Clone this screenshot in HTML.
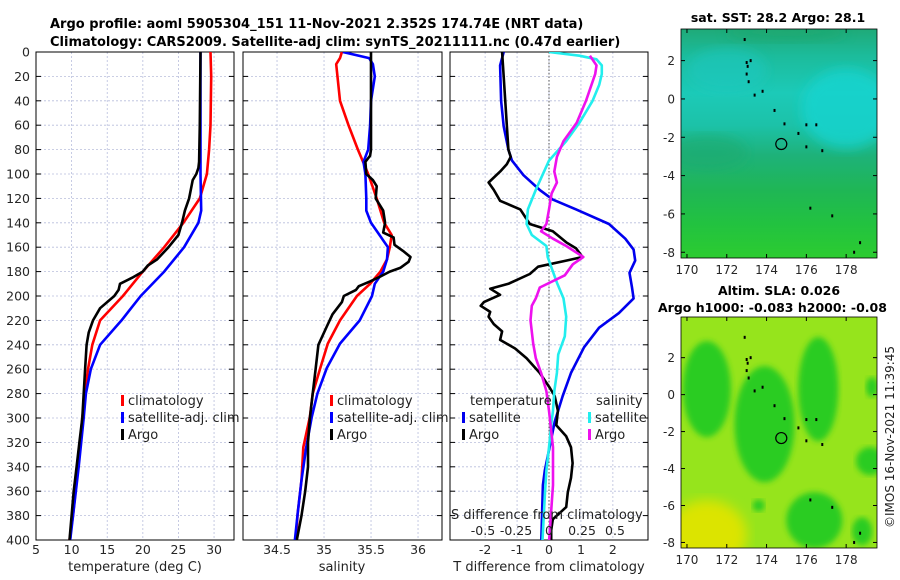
<!DOCTYPE html>
<html><head><meta charset="utf-8"><style>
html,body{margin:0;padding:0;background:#fff;}
svg{display:block;font-family:"DejaVu Sans","Liberation Sans",sans-serif;}
</style></head><body>
<svg id="fig" width="900" height="580" viewBox="0 0 900 580">
<defs>
<linearGradient id="sstGrad" x1="0" y1="0" x2="0" y2="1">
<stop offset="0" stop-color="#1faa78"/><stop offset="0.12" stop-color="#1cbc9c"/>
<stop offset="0.28" stop-color="#1ccab8"/><stop offset="0.42" stop-color="#1cc2a8"/>
<stop offset="0.55" stop-color="#1eb27a"/><stop offset="0.7" stop-color="#1fb656"/>
<stop offset="0.85" stop-color="#22c240"/><stop offset="1" stop-color="#2ccc30"/>
</linearGradient>
<filter id="blur6"><feGaussianBlur stdDeviation="6"/></filter>
<filter id="blur3"><feGaussianBlur stdDeviation="3"/></filter>
<clipPath id="clipM1"><rect x="681" y="29" width="196" height="229"/></clipPath>
<clipPath id="clipM2"><rect x="681" y="317" width="196" height="231"/></clipPath>
<clipPath id="clipP1"><rect x="36" y="52" width="198" height="488"/></clipPath>
<clipPath id="clipP2"><rect x="243" y="52" width="199" height="488"/></clipPath>
<clipPath id="clipP3"><rect x="450" y="52" width="198" height="488"/></clipPath>
</defs>
<text x="50" y="28" font-size="13" font-weight="bold">Argo profile: aoml 5905304_151 11-Nov-2021 2.352S 174.74E (NRT data)</text>
<text x="50" y="46" font-size="13" font-weight="bold">Climatology: CARS2009. Satellite-adj clim: synTS_20211111.nc (0.47d earlier)</text>
<g id="panels"></g>
<g id="maps"></g>
<text transform="translate(894,437) rotate(-90)" text-anchor="middle" font-size="12" fill="#222">©IMOS 16-Nov-2021 11:39:45</text>
</svg>
<script>
// ---- Panel 1: temperature ----
const tClimDepth = [0,20,60,80,100,120,140,160,180,200,220,240,260,280,300,340,380,400];
const tClimVal   = [29.5,29.6,29.5,29.3,29.0,28.0,25.7,23.0,20.0,17.2,14.0,12.9,12.3,11.9,11.5,10.9,10.2,9.7];
const tSatDepth  = [0,60,100,130,140,160,180,200,220,240,260,280,300,340,400];
const tSatVal    = [28.1,28.1,28.1,28.2,27.8,25.8,23.0,19.7,17.0,14.0,12.7,12.0,11.7,11.0,9.8];
const tArgoDepth = [0,60,90,95,100,105,120,130,140,150,160,170,175,180,185,190,195,200,210,220,230,240,260,280,300,320,340,360,380,400];
const tArgoVal   = [28.1,28.0,27.9,27.8,27.5,27.0,26.5,25.9,25.5,25.0,23.6,22.0,20.7,20.0,18.5,16.8,16.6,16.0,14.0,13.0,12.4,12.1,11.9,11.7,11.5,11.1,10.7,10.3,10.0,9.7];
const tTicks = [5,10,15,20,25,30];
// ---- Panel 2: salinity ----
const sClimDepth = [0,5,10,40,60,80,100,120,140,150,160,170,180,190,200,220,239,259,280,299,324,351,378,400];
const sClimVal   = [35.19,35.17,35.13,35.17,35.26,35.36,35.47,35.56,35.64,35.72,35.70,35.67,35.60,35.49,35.35,35.17,35.04,34.96,34.88,34.85,34.78,34.76,34.72,34.70];
const sSatDepth  = [0,5,10,20,40,60,80,90,100,120,130,140,150,160,170,180,190,200,220,239,259,280,299,324,351,378,400];
const sSatVal    = [35.20,35.48,35.52,35.54,35.50,35.49,35.47,35.42,35.44,35.45,35.45,35.50,35.59,35.68,35.67,35.63,35.54,35.51,35.38,35.17,35.03,34.93,34.87,34.81,34.76,34.72,34.69];
const sArgoDepth = [0,80,85,90,100,105,110,120,130,140,148,152,158,163,168,172,177,180,184,188,192,195,200,205,215,225,240,260,280,300,320,340,360,380,400];
const sArgoVal   = [35.50,35.50,35.49,35.44,35.45,35.52,35.56,35.55,35.63,35.65,35.63,35.74,35.75,35.84,35.92,35.90,35.81,35.70,35.60,35.49,35.37,35.34,35.21,35.19,35.09,35.03,34.94,34.91,34.88,34.85,34.83,34.83,34.80,34.76,34.71];
const sTicks = [34.5,35,35.5,36];
// ---- Panel 3: differences ----
const dTSatDepth = [0,11,40,61,80,89,101,113,121,129,141,153,162,171,181,193,202,214,226,242,263,282,303,324,343,355,400];
const dTSatVal   = [-1.42,-1.53,-1.5,-1.42,-1.27,-1.16,-0.8,-0.29,0.12,0.85,1.88,2.39,2.65,2.7,2.52,2.6,2.65,2.19,1.57,1.1,0.69,0.43,0.18,0.02,-0.13,-0.19,-0.24];
const dTArgoDepth= [0,80,86,92,98,107,113,122,129,141,147,156,161,168,171,176,182,190,194,199,205,208,213,217,223,229,236,243,251,263,275,282,294,306,315,324,337,349,361,373,383,392,402];
const dTArgoVal  = [-1.47,-1.27,-1.2,-1.32,-1.53,-1.89,-1.73,-1.53,-0.9,-0.6,0.12,0.54,0.85,1.05,0.54,-0.34,-0.6,-1.27,-1.84,-1.53,-2.04,-2.14,-1.84,-1.89,-1.73,-1.47,-1.53,-1.06,-0.7,-0.29,0.02,0.18,0.28,0.23,0.54,0.69,0.74,0.69,0.59,0.54,0.12,0.07,0.07];
const dSSatDepth = [0,3,6,11,18,27,40,58,73,89,101,113,129,141,150,159,168,177,189,202,217,233,248,263,278,294,303,324,343,361,402];
const dSSatVal   = [0,0.23,0.36,0.40,0.40,0.38,0.33,0.23,0.13,0,-0.05,-0.10,-0.16,-0.17,-0.13,-0.02,-0.01,0.02,0.06,0.11,0.13,0.12,0.07,0.06,0.04,0.03,0.02,0.0,-0.02,-0.03,-0.05];
const dSArgoDepth= [3,11,18,40,58,73,86,98,107,116,129,141,147,153,159,168,174,183,193,202,208,220,239,251,263,278,294,324,355,402];
const dSArgoVal  = [0.31,0.36,0.35,0.28,0.21,0.11,0.06,0.04,0.06,0.02,0.0,-0.02,-0.06,0.03,0.13,0.26,0.18,0.12,-0.07,-0.10,-0.13,-0.14,-0.12,-0.10,-0.06,-0.02,0.0,0.03,0.03,0.0];
const dTTicks = [-2,-1,0,1,2];
const dSTicks = [-0.5,-0.25,0,0.25,0.5];
const dSTickLabels = ["-0.5","-0.25","0","0.25","0.5"];
const depthTicks = [0,20,40,60,80,100,120,140,160,180,200,220,240,260,280,300,320,340,360,380,400];
// ---- Maps ----
const mapLatTicks = [2,0,-2,-4,-6,-8];
const mapLonTicks = [170,172,174,176,178];
const islandLon = [172.9,173.05,173.0,173.1,173.8,173.4,174.4,174.9,175.6,176.0,176.5,176.0,176.8,176.2,177.3,178.7,178.4,173.2,173.0];
const islandLat = [3.1,1.7,1.3,0.9,0.4,0.2,-0.6,-1.3,-1.8,-1.35,-1.35,-2.5,-2.7,-5.7,-6.1,-7.5,-8.0,2.0,1.9];
const argoLon = 174.74, argoLat = -2.352;

const NS = "http://www.w3.org/2000/svg";
const panels = document.getElementById('panels');
function el(tag, attrs, parent){const e=document.createElementNS(NS,tag);for(const k in attrs)e.setAttribute(k,attrs[k]);(parent||panels).appendChild(e);return e;}
const Y0=52, Y1=540;
const sy = d => Y0 + (d/400)*(Y1-Y0);
function linX(x0,x1,v0,v1){return v=>x0+(v-v0)/(v1-v0)*(x1-x0);}

function frame(x0,x1,sx,ticks,labels,showY,name){
  const g=el('g',{});
  
  
  depthTicks.forEach(d=>{
    if(d>0&&d<400){const l=el('line',{x1:x0,x2:x1,y1:sy(d),y2:sy(d),stroke:'#b8bedc','stroke-width':0.8,'stroke-dasharray':'2,2'},g);
      }
    el('line',{x1:x0,x2:x0+5,y1:sy(d),y2:sy(d),stroke:'#000'},g);
    el('line',{x1:x1-5,x2:x1,y1:sy(d),y2:sy(d),stroke:'#000'},g);
    if(showY){const t=el('text',{x:30,y:sy(d)+4.5,'text-anchor':'end','font-size':12.5,fill:'#262626'},g);t.textContent=d;
      }
  });
  ticks.forEach((v,i)=>{
    const x=sx(v);
    const l=el('line',{x1:x,x2:x,y1:Y0,y2:Y1,stroke:'#b8bedc','stroke-width':0.8,'stroke-dasharray':'2,2'},g);
    
    const t=el('text',{x:x,y:554,'text-anchor':'middle','font-size':12.5,fill:'#262626'},g);t.textContent=labels[i];
    
  });
  const r=el('rect',{x:x0,y:Y0,width:x1-x0,height:Y1-Y0,fill:'none',stroke:'#000','stroke-width':1},g);
  
  return g;
}
function series(depths,vals,sx,color,clip,name){
  const pts=depths.map((d,i)=>sx(vals[i]).toFixed(1)+','+sy(d).toFixed(1)).join(' ');
  const p=el('polyline',{points:pts,fill:'none',stroke:color,'stroke-width':2.6,'stroke-linejoin':'round','clip-path':'url(#'+clip+')'});
  
  
}
function txt(x,y,s,size,name,anchor,color){const t=el('text',{x:x,y:y,'font-size':size,fill:color||'#222','text-anchor':anchor||'start'});t.textContent=s;
  
  return t;}
function legend(x,y,color,label,name){
  const g=el('g',{});
  
  
  el('rect',{x:x,y:y-10,width:3,height:11,fill:color},g);
  const t=el('text',{x:x+7,y:y,'font-size':13,fill:'#222'},g);t.textContent=label;
}

// Panel 1
const sx1=linX(36,234,5,32.8);
frame(36,234,sx1,tTicks,tTicks.map(String),true,'temperature-panel');
series(tClimDepth,tClimVal,sx1,'#ff0000','clipP1','temp-climatology-line');
series(tSatDepth,tSatVal,sx1,'#0000ff','clipP1','temp-satellite-line');
series(tArgoDepth,tArgoVal,sx1,'#000000','clipP1','temp-argo-line');
legend(121,405,'#ff0000','climatology','legend-climatology-1');
legend(121,422,'#0000ff','satellite-adj. clim','legend-satellite-1');
legend(121,439,'#000000','Argo','legend-argo-1');
txt(135,571,'temperature (deg C)',13,'temperature-axis-title','middle');

// Panel 2
const sx2=linX(243,442,34.138,36.255);
frame(243,442,sx2,sTicks,sTicks.map(String),false,'salinity-panel');
series(sClimDepth,sClimVal,sx2,'#ff0000','clipP2','sal-climatology-line');
series(sSatDepth,sSatVal,sx2,'#0000ff','clipP2','sal-satellite-line');
series(sArgoDepth,sArgoVal,sx2,'#000000','clipP2','sal-argo-line');
legend(330,405,'#ff0000','climatology','legend-climatology-2');
legend(330,422,'#0000ff','satellite-adj. clim','legend-satellite-2');
legend(330,439,'#000000','Argo','legend-argo-2');
txt(342,571,'salinity',13,'salinity-axis-title','middle');

// Panel 3
const sx3=linX(450,648,-3.1,3.1);
const sx3s=v=>549+v*132;
frame(450,648,sx3,dTTicks,dTTicks.map(String),false,'difference-panel');
el('line',{x1:549,x2:549,y1:Y0,y2:Y1,stroke:'#555','stroke-width':1,'stroke-dasharray':'1.5,2'});
series(dTSatDepth,dTSatVal,sx3,'#0000ee','clipP3','dT-satellite-line');
series(dTArgoDepth,dTArgoVal,sx3,'#000000','clipP3','dT-argo-line');
series(dSSatDepth,dSSatVal,sx3s,'#22eeee','clipP3','dS-satellite-line');
series(dSArgoDepth,dSArgoVal,sx3s,'#ee11ee','clipP3','dS-argo-line');
txt(470,405,'temperature',13,'legend-temperature-heading');
legend(462,422,'#0000ee','satellite','legend-dT-satellite');
legend(462,439,'#000000','Argo','legend-dT-argo');
txt(596,405,'salinity',13,'legend-salinity-heading');
legend(588,422,'#22eeee','satellite','legend-dS-satellite');
legend(588,439,'#ee11ee','Argo','legend-dS-argo');
txt(451,519,'S difference from climatology',13,'s-diff-axis-title','start');
dSTicks.forEach((v,i)=>{txt(sx3s(v),535,dSTickLabels[i],12.5,'s-diff-tick-label','middle');});
txt(549,571,'T difference from climatology',13,'t-diff-axis-title','middle');

// ---- Maps ----
const maps=document.getElementById('maps');
function mel(tag,attrs,parent){const e=document.createElementNS(NS,tag);for(const k in attrs)e.setAttribute(k,attrs[k]);(parent||maps).appendChild(e);return e;}
function drawMap(top,bottom,latTop,latBot,kind,name,titleLines){
  const x0=681,x1=877;
  const lx=lon=>x0+(lon-169.7)/(179.55-169.7)*(x1-x0);
  const ly=lat=>top+(latTop-lat)/(latTop-latBot)*(bottom-top);
  const g=mel('g',{});
  
  
  const clip=kind==='sst'?'clipM1':'clipM2';
  const img=mel('g',{'clip-path':'url(#'+clip+')'},g);
  if(kind==='sst'){
    mel('rect',{x:x0,y:top,width:x1-x0,height:bottom-top,fill:'url(#sstGrad)'},img);
    mel('ellipse',{cx:lx(178),cy:ly(-0.5),rx:45,ry:40,fill:'#18d4d0',opacity:0.8,filter:'url(#blur6)'},img);
    mel('ellipse',{cx:lx(172),cy:ly(1.5),rx:40,ry:22,fill:'#1cc8c0',opacity:0.6,filter:'url(#blur6)'},img);
    mel('ellipse',{cx:lx(175),cy:ly(3.5),rx:60,ry:10,fill:'#1aa870',opacity:0.7,filter:'url(#blur6)'},img);
    mel('ellipse',{cx:lx(171),cy:ly(-2.8),rx:40,ry:18,fill:'#1eaa70',opacity:0.6,filter:'url(#blur6)'},img);
  } else {
    mel('rect',{x:x0,y:top,width:x1-x0,height:bottom-top,fill:'#96e41c'},img);
    mel('ellipse',{cx:lx(171),cy:ly(-7.6),rx:40,ry:35,fill:'#dce400',filter:'url(#blur6)'},img);
    const blobs=[[171,0.3,24,48],[173.9,-1.6,30,58],[176.6,0.3,20,52],[179.2,-3.6,14,14],[176.4,-6.8,28,28],[178.8,-7.4,10,14],[179.3,0.4,6,10],[173.6,-6.0,6,6]];
    blobs.forEach(b=>mel('ellipse',{cx:lx(b[0]),cy:ly(b[1]),rx:b[2],ry:b[3],fill:'#2ccc22',filter:'url(#blur3)'},img));
  }
  islandLon.forEach((lo,i)=>{const d=mel('rect',{x:lx(lo)-1,y:ly(islandLat[i])-1.5,width:2,height:3,fill:'#000'},g);
    });
  const c=mel('circle',{cx:lx(argoLon),cy:ly(argoLat),r:5.5,fill:'none',stroke:'#000','stroke-width':1.2},g);
  
  mel('rect',{x:x0,y:top,width:x1-x0,height:bottom-top,fill:'none',stroke:'#000','stroke-width':0.8},g);
  mapLatTicks.forEach(v=>{
    const y=ly(v);
    mel('line',{x1:x0,x2:x0+4,y1:y,y2:y,stroke:'#000'},g);mel('line',{x1:x1-4,x2:x1,y1:y,y2:y,stroke:'#000'},g);
    const t=mel('text',{x:675,y:y+4.5,'text-anchor':'end','font-size':12,fill:'#262626'},g);t.textContent=v;
    
  });
  mapLonTicks.forEach(v=>{
    const x=lx(v);
    mel('line',{x1:x,x2:x,y1:bottom-4,y2:bottom,stroke:'#000'},g);mel('line',{x1:x,x2:x,y1:top,y2:top+4,stroke:'#000'},g);
    const t=mel('text',{x:x,y:bottom+16,'text-anchor':'middle','font-size':12,fill:'#262626'},g);t.textContent=v;
    
  });
  titleLines.forEach(tl=>{const t=mel('text',{x:tl[0],y:tl[1],'text-anchor':tl[3],'font-size':12.5,'font-weight':'bold'},g);t.textContent=tl[2];
    });
}
drawMap(29,258,3.65,-8.3,'sst','sst-map',[[778,22,'sat. SST: 28.2 Argo: 28.1','middle']]);
drawMap(317,548,4.2,-8.3,'sla','sla-map',[[779,295,'Altim. SLA: 0.026','middle'],[658,312,'Argo h1000: -0.083 h2000: -0.08','start']]);
</script>
</body></html>
